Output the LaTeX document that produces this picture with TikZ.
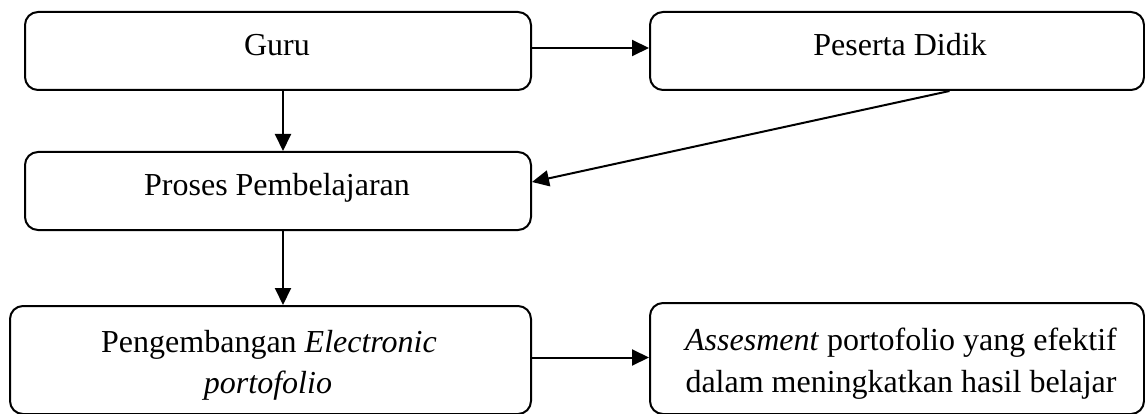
\documentclass[tikz,border=0pt]{standalone}
\usepackage{fontspec}
\setmainfont{Liberation Serif}
\usetikzlibrary{arrows.meta,calc}
\begin{document}
\begin{tikzpicture}[x=1pt,y=-1pt,
  box/.style={draw, line width=2pt, rounded corners=13pt, inner sep=0pt,
    anchor=north west},
  txt/.style={anchor=base, inner sep=0pt, font=\fontsize{32}{40}\selectfont},
  arr/.style={line width=2pt, -{Triangle[length=17pt,width=16pt]}}]
\useasboundingbox (0,0) rectangle (1145,414);

% boxes
\node[box, minimum width=506pt, minimum height=78pt]  (guru)   at (24,11)  {};
\node[box, minimum width=494pt, minimum height=78pt]  (siswa)  at (649,11) {};
\node[box, minimum width=506pt, minimum height=78pt]  (proses) at (24,151) {};
\node[box, minimum width=521pt, minimum height=108pt] (epf)    at (9,305)  {};
\node[box, minimum width=494pt, minimum height=111pt] (hasil)  at (649,302) {};

% labels
\node[txt] (tguru)   at (277,56)  {Guru};
\node[txt] (tsiswa)  at (900,56)  {Peserta Didik};
\node[txt] (tproses) at (277,196) {Proses Pembelajaran};
\node[txt] (tepfa)   at (269,352) {Pengembangan \textit{Electronic}};
\node[txt] (tepfb)   at (268,393) {\textit{portofolio}};
\node[txt] (thasila) at (901,350) {\textit{Assesment} portofolio yang efektif};
\node[txt] (thasilb) at (901,392) {dalam meningkatkan hasil belajar};

% connectors
\coordinate (a1) at ([yshift=3pt]guru.east);
\draw[arr] (a1) -- (a1 -| siswa.west);
\coordinate (a2) at ([xshift=5pt]guru.south);
\draw[arr] (a2) -- (a2 |- proses.north);
\coordinate (a3) at ([xshift=52.5pt]siswa.south);
\coordinate (a4) at ([yshift=9pt]proses.east);
\draw[arr] (a3) -- (a4);
\coordinate (a5) at ([xshift=5pt]proses.south);
\draw[arr] (a5) -- (a5 |- epf.north);
\coordinate (a6) at ([yshift=2.5pt]epf.east);
\draw[arr] (a6) -- (a6 -| hasil.west);
\end{tikzpicture}
\end{document}
